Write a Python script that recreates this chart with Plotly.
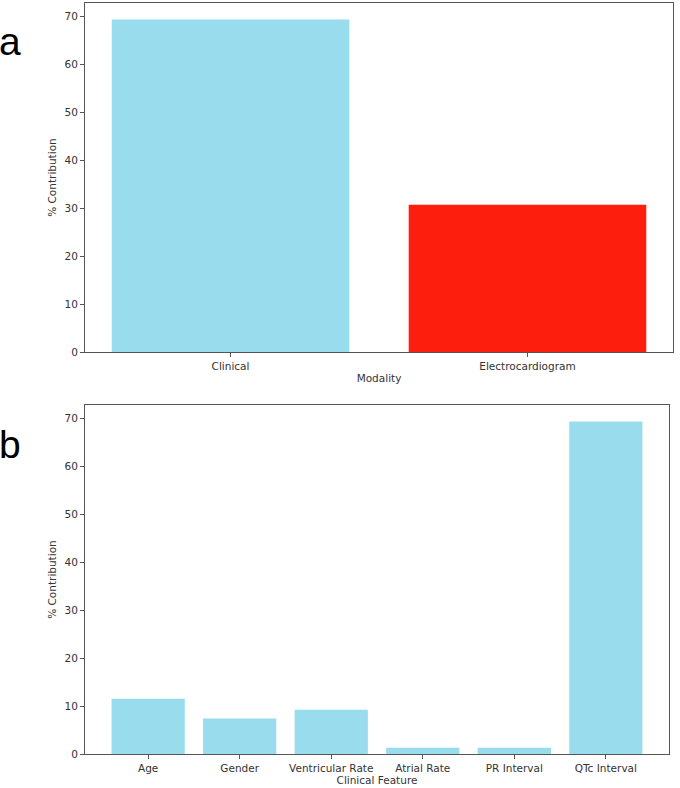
import plotly.graph_objects as go

modalities = ["Clinical", "Electrocardiogram"]
modality_values = [69.3, 30.7]
modality_colors = ["#98dcee", "#fe1e0e"]

features = ["Age", "Gender", "Ventricular Rate", "Atrial Rate", "PR Interval", "QTc Interval"]
feature_values = [11.5, 7.4, 9.2, 1.3, 1.3, 69.3]

y_ticks = [0, 10, 20, 30, 40, 50, 60, 70]

W, H = 680, 788
FONT = "DejaVu Sans, sans-serif"
TXT = "#333333"
LINE = "#555555"
FS = 10.5

fig = go.Figure()
fig.add_trace(go.Bar(x=modalities, y=modality_values, marker=dict(color=modality_colors, line=dict(width=0)),
                     width=0.8, xaxis="x", yaxis="y", showlegend=False))
fig.add_trace(go.Bar(x=features, y=feature_values, marker=dict(color="#98dcee", line=dict(width=0)),
                     width=0.8, xaxis="x2", yaxis="y2", showlegend=False))

def px_dom(a, b, total):
    return [a / total, b / total]

axis_common = dict(showline=True, linecolor=LINE, linewidth=1, mirror=True, showgrid=False, zeroline=False,
                   automargin=False, ticks="outside", ticklen=4, tickcolor=LINE,
                   tickfont=dict(family=FONT, size=FS, color=TXT))

ymax_a = max(modality_values) * 1.05
ymax_b = max(feature_values) * 1.05
fig.update_layout(
    width=W, height=H,
    margin=dict(l=0, r=0, t=0, b=0, autoexpand=False),
    paper_bgcolor="white", plot_bgcolor="white",
    font=dict(family=FONT, color=TXT, size=FS),
    xaxis=dict(domain=px_dom(85, 673, W), anchor="y", type="category", range=[-0.49, len(modalities) - 0.51],
               title=dict(text="Modality", font=dict(family=FONT, size=FS, color=TXT), standoff=4), **axis_common),
    yaxis=dict(domain=[1 - 352 / H, 1 - 3 / H], anchor="x", range=[0, ymax_a], tickvals=y_ticks,
               title=dict(text="% Contribution", font=dict(family=FONT, size=FS, color=TXT), standoff=5), **axis_common),
    xaxis2=dict(domain=px_dom(85, 669, W), anchor="y2", type="category", range=[-0.69, len(features) - 0.31],
                title=dict(text="Clinical Feature", font=dict(family=FONT, size=FS, color=TXT), standoff=2), **axis_common),
    yaxis2=dict(domain=[1 - 754 / H, 1 - 405 / H], anchor="x2", range=[0, ymax_b], tickvals=y_ticks,
                title=dict(text="% Contribution", font=dict(family=FONT, size=FS, color=TXT), standoff=5), **axis_common),
    annotations=[
        dict(text="a", x=-0.004, y=1 - 42 / H, xref="paper", yref="paper", xanchor="left", yanchor="middle",
             showarrow=False, font=dict(family="Liberation Sans, Arial, sans-serif", size=39, color="black")),
        dict(text="b", x=-0.004, y=1 - 444 / H, xref="paper", yref="paper", xanchor="left", yanchor="middle",
             showarrow=False, font=dict(family="Liberation Sans, Arial, sans-serif", size=39, color="black")),
    ],
)

fig.write_html("out.html", config={"displayModeBar": False},
               post_script="document.body.style.margin='0';document.body.style.padding='0';")
